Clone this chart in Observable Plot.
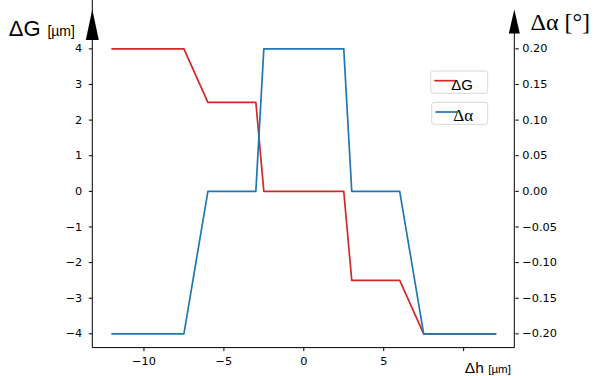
<!DOCTYPE html>
<html>
<head>
<meta charset="utf-8">
<script src="https://cdn.jsdelivr.net/npm/d3@7"></script>
<script src="https://cdn.jsdelivr.net/npm/@observablehq/plot@0.6"></script>
<style>
  html, body { margin: 0; padding: 0; background: #fff; }
  #chart { position: relative; width: 596px; height: 376px; }
</style>
</head>
<body>
<div id="chart"></div>
<script>
// ---- data ----
const hValues = [-12, -7.5, -6, -3, -2.5, 2.5, 3, 6, 7.5, 12];
const gValues = [4, 4, 2.5, 2.5, 0, 0, -2.5, -2.5, -4, -4];
const alphaValues = [-0.2, -0.2, 0, 0, 0.2, 0.2, 0, 0, -0.2, -0.2];
const hTicks = [-10, -5, 0, 5, 10];
const hTickLabels = ["\u221210", "\u22125", "0", "5", ""];
const gTicks = [-4, -3, -2, -1, 0, 1, 2, 3, 4];
const alphaTicks = [-0.2, -0.15, -0.1, -0.05, 0, 0.05, 0.1, 0.15, 0.2];
const seriesNames = ["\u0394G", "\u0394\u03b1"];
const seriesColors = ["#d62728", "#1f77b4"];

const ALPHA_TO_G = 20; // right axis: 0.20° aligns with 4 µm
const data = hValues.map((h, i) => ({h, g: gValues[i], alpha: alphaValues[i]}));

const minus = v => (v < 0 ? "\u2212" : "") + Math.abs(v);
const fmtA = v => { const a = Math.round(v * 100) / 100; return (a < 0 ? "\u2212" : "") + Math.abs(a).toFixed(2); };

function decorations(index, scales, values, dims) {
  const L = dims.marginLeft, R = dims.width - dims.marginRight, B = dims.height - dims.marginBottom;
  const g = d3.create("svg:g");
  g.append("line").attr("x1", L).attr("x2", R).attr("y1", B).attr("y2", B).attr("stroke", "#000").attr("stroke-width", 1);
  g.append("line").attr("x1", L).attr("x2", L).attr("y1", B).attr("y2", 0).attr("stroke", "#000").attr("stroke-width", 1);
  g.append("line").attr("x1", R).attr("x2", R).attr("y1", B).attr("y2", 30).attr("stroke", "#000").attr("stroke-width", 1);
  g.append("path").attr("d", `M${L},9.5L${L - 6.5},40L${L + 6.5},40Z`).attr("fill", "#000");
  g.append("path").attr("d", `M${R},9.5L${R - 5.5},33.5L${R + 5.5},33.5Z`).attr("fill", "#000");
  // legend boxes
  const boxes = [{x: 430.7, y: 71, w: 57, h: 22.3}, {x: 431.7, y: 102.3, w: 56, h: 22}];
  seriesNames.forEach((name, i) => {
    const b = boxes[i];
    g.append("rect").attr("x", b.x).attr("y", b.y).attr("width", b.w).attr("height", b.h)
      .attr("rx", 2.5).attr("fill", "#fff").attr("fill-opacity", 0.8).attr("stroke", "#d8d8d8").attr("stroke-width", 1);
    g.append("line").attr("x1", b.x + 3.6).attr("x2", b.x + 25.3).attr("y1", b.y + 9.7).attr("y2", b.y + 9.7)
      .attr("stroke", seriesColors[i]).attr("stroke-width", 1.7);
    g.append("text").attr("x", b.x + 31.5).attr("y", b.y + 19).text(name)
      .attr("font-family", i === 0 ? "Liberation Sans" : "Liberation Serif")
      .attr("font-size", i === 0 ? 15 : 17).attr("fill", "#000");
  });
  return g.node();
}

const plot = Plot.plot({
  width: 596,
  height: 376,
  marginLeft: 92.3,
  marginRight: 81.7,
  marginTop: 34.1,
  marginBottom: 28.4,
  x: {domain: [-13.2, 13.2]},
  y: {domain: [-4.4, 4.4]},
  style: {fontFamily: "DejaVu Sans", fontSize: "11.3px", color: "#000", background: "#fff", overflow: "visible"},
  marks: [
    Plot.axisX(hTicks, {tickSize: 3.5, tickPadding: 5.5, tickFormat: (d, i) => hTickLabels[hTicks.indexOf(d)], label: null, stroke: "#000"}),
    Plot.axisY(gTicks, {anchor: "left", tickSize: 3.5, tickPadding: 7, tickFormat: minus, label: null}),
    Plot.axisY(alphaTicks.map(v => v * ALPHA_TO_G), {anchor: "right", tickSize: 3.5, tickPadding: 4, tickFormat: v => fmtA(v / ALPHA_TO_G), label: null}),
    Plot.line(data, {x: "h", y: "g", stroke: seriesColors[0], strokeWidth: 1.7}),
    Plot.line(data, {x: "h", y: d => d.alpha * ALPHA_TO_G, stroke: seriesColors[1], strokeWidth: 1.7}),
    decorations,
    Plot.text(["\u0394G"], {frameAnchor: "top-left", textAnchor: "start", lineAnchor: "bottom", dx: -84, dy: 1, fontSize: 22, fontFamily: "Liberation Sans"}),
    Plot.text(["[\u00b5m]"], {frameAnchor: "top-left", textAnchor: "start", lineAnchor: "bottom", dx: -45.4, dy: 1, fontSize: 14, fontFamily: "Liberation Sans"}),
    Plot.text(["\u0394\u03b1 [\u00b0]"], {frameAnchor: "top-right", textAnchor: "start", lineAnchor: "bottom", dx: 15.7, dy: -4.6, fontSize: 24, fontFamily: "Liberation Serif"}),
    Plot.text(["\u0394h"], {frameAnchor: "bottom-right", textAnchor: "start", lineAnchor: "bottom", dx: -50, dy: 25, fontSize: 15.5, fontFamily: "Liberation Sans"}),
    Plot.text(["[\u00b5m]"], {frameAnchor: "bottom-right", textAnchor: "start", lineAnchor: "bottom", dx: -26.5, dy: 25, fontSize: 11.5, fontFamily: "Liberation Sans"})
  ]
});
document.getElementById("chart").appendChild(plot);
</script>
</body>
</html>
